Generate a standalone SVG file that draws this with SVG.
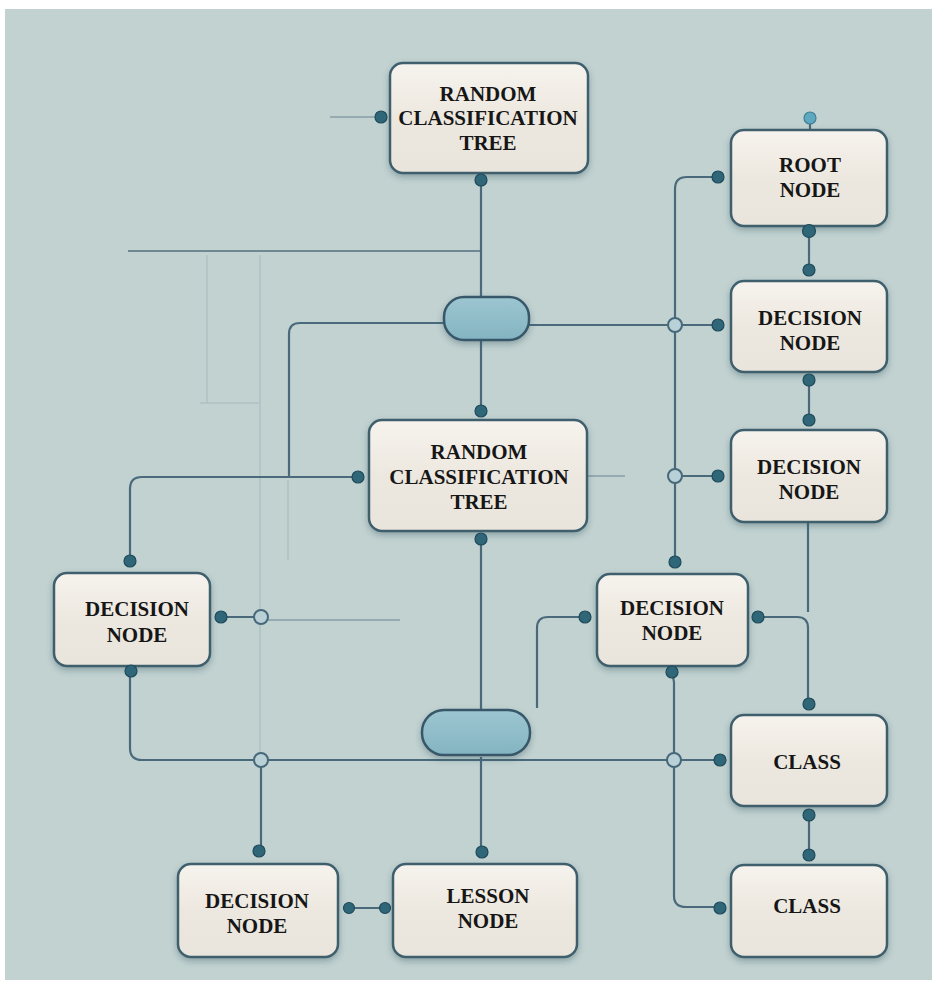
<svg xmlns="http://www.w3.org/2000/svg" width="939" height="988" viewBox="0 0 939 988">
<defs>
<linearGradient id="box" x1="0" y1="0" x2="0" y2="1">
<stop offset="0" stop-color="#f6f3ee"/>
<stop offset="0.5" stop-color="#ede8df"/>
<stop offset="1" stop-color="#eae5dc"/>
</linearGradient>
<linearGradient id="pill" x1="0" y1="0" x2="0" y2="1">
<stop offset="0" stop-color="#9cc6d0"/>
<stop offset="1" stop-color="#84b4c2"/>
</linearGradient>
<filter id="sh" x="-20%" y="-20%" width="140%" height="150%">
<feDropShadow dx="0" dy="3" stdDeviation="3" flood-color="#2d4a55" flood-opacity="0.35"/>
</filter>
</defs>
<style>
.bg{fill:#c2d2d1}
.node rect.b{fill:url(#box);stroke:#3f5f6d;stroke-width:2.5;filter:url(#sh)}
.pill rect{fill:url(#pill);stroke:#37596a;stroke-width:2.5;filter:url(#sh)}
.t{font-family:"Liberation Serif","Times New Roman",serif;font-weight:bold;font-size:21px;fill:#161616;text-anchor:middle}
.ln{fill:none;stroke:#4a6a7b;stroke-width:2.2}
.fl{fill:none;stroke:#5f7d8a;stroke-width:2;opacity:0.45}
.vf{fill:none;stroke:#8aa3ac;stroke-width:1.5;opacity:0.35}
.d{fill:#2f6678;stroke:#1f4a5a;stroke-width:1.2}
.dl{fill:#5fa9c0;stroke:#3d7f96;stroke-width:1.2}
.j{fill:#b9d0d6;stroke:#46687a;stroke-width:2}
</style>
<rect x="0" y="0" width="939" height="988" fill="#ffffff"/>
<rect class="bg" x="5" y="9" width="927" height="971"/>
<g id="connectors">
<path class="fl" d="M330,117 H381"/>
<path class="ln" d="M128,251 H481" opacity="0.7"/>
<path class="vf" d="M207,255 V403 M200,403 H260 M260,255 V760 M288,480 V560"/>
<path class="ln" d="M481,180 V298"/>
<path class="ln" d="M446,323 H300 Q289,323 289,334 V477"/>
<path class="ln" d="M481,340 V411"/>
<path class="ln" d="M358,477 H142 Q130,477 130,489 V562"/>
<path class="fl" d="M588,476 H625"/>
<path class="ln" d="M529,325 H718"/>
<path class="ln" d="M718,177 H687 Q675,177 675,189 V562"/>
<path class="ln" d="M675,476 H718"/>
<path class="ln" d="M810,118 V130"/>
<path class="ln" d="M809,230 V270"/>
<path class="ln" d="M809,380 V420"/>
<path class="ln" d="M808,522 V612"/>
<path class="ln" d="M758,617 H797 Q808,617 808,628 V705"/>
<path class="ln" d="M585,617 H548 Q537,617 537,628 V708"/>
<path class="ln" d="M481,540 V710"/>
<path class="ln" d="M481,757 V852"/>
<path class="ln" d="M221,617 H261"/>
<path class="fl" d="M268,620 H400"/>
<path class="ln" d="M130,672 V748 Q130,760 142,760 H420"/>
<path class="ln" d="M420,760 H720"/>
<path class="ln" d="M672,672 L674,682 V896 Q674,907 686,907 H718"/>
<path class="ln" d="M261,760 V852"/>
<path class="ln" d="M349,908 H385"/>
<path class="ln" d="M809,815 V855"/>
</g>
<g id="junctions">
<circle class="j" cx="675" cy="325" r="7"/>
<circle class="j" cx="675" cy="476" r="7"/>
<circle class="j" cx="261" cy="617" r="7"/>
<circle class="j" cx="261" cy="760" r="7"/>
<circle class="j" cx="674" cy="760" r="7"/>
</g>
<g id="node-rct-top" class="node">
<rect class="b" x="390" y="63" width="198" height="110" rx="13"/>
<text class="t" x="488" y="101">RANDOM</text>
<text class="t" x="488" y="125">CLASSIFICATION</text>
<text class="t" x="488" y="150">TREE</text>
</g>
<g id="pill-1" class="pill">
<rect x="444" y="297" width="85" height="43" rx="20"/>
</g>
<g id="node-rct-mid" class="node">
<rect class="b" x="369" y="420" width="218" height="111" rx="13"/>
<text class="t" x="479" y="459">RANDOM</text>
<text class="t" x="479" y="484">CLASSIFICATION</text>
<text class="t" x="479" y="509">TREE</text>
</g>
<g id="node-root" class="node">
<rect class="b" x="731" y="130" width="156" height="96" rx="13"/>
<text class="t" x="810" y="172">ROOT</text>
<text class="t" x="810" y="197">NODE</text>
</g>
<g id="node-decision-r1" class="node">
<rect class="b" x="731" y="281" width="156" height="91" rx="13"/>
<text class="t" x="810" y="325">DECISION</text>
<text class="t" x="810" y="350">NODE</text>
</g>
<g id="node-decision-r2" class="node">
<rect class="b" x="731" y="430" width="156" height="92" rx="13"/>
<text class="t" x="809" y="474">DECISION</text>
<text class="t" x="809" y="499">NODE</text>
</g>
<g id="node-decision-mid" class="node">
<rect class="b" x="597" y="574" width="151" height="92" rx="13"/>
<text class="t" x="672" y="615">DECISION</text>
<text class="t" x="672" y="640">NODE</text>
</g>
<g id="node-decision-left" class="node">
<rect class="b" x="54" y="573" width="156" height="93" rx="13"/>
<text class="t" x="137" y="616">DECISION</text>
<text class="t" x="137" y="642">NODE</text>
</g>
<g id="pill-2" class="pill">
<rect x="422" y="710" width="108" height="45" rx="22"/>
</g>
<g id="node-class-1" class="node">
<rect class="b" x="731" y="715" width="156" height="91" rx="13"/>
<text class="t" x="807" y="769">CLASS</text>
</g>
<g id="node-class-2" class="node">
<rect class="b" x="731" y="865" width="156" height="92" rx="13"/>
<text class="t" x="807" y="913">CLASS</text>
</g>
<g id="node-decision-bottom" class="node">
<rect class="b" x="178" y="864" width="160" height="93" rx="13"/>
<text class="t" x="257" y="908">DECISION</text>
<text class="t" x="257" y="933">NODE</text>
</g>
<g id="node-lesson" class="node">
<rect class="b" x="393" y="864" width="184" height="93" rx="13"/>
<text class="t" x="488" y="903">LESSON</text>
<text class="t" x="488" y="928">NODE</text>
</g>
<g id="ports">
<circle class="d" cx="381" cy="117" r="6"/>
<circle class="d" cx="481" cy="180" r="6"/>
<circle class="d" cx="481" cy="411" r="6"/>
<circle class="d" cx="358" cy="477" r="6"/>
<circle class="d" cx="481" cy="539" r="6"/>
<circle class="dl" cx="810" cy="118" r="6"/>
<circle class="d" cx="718" cy="177" r="6"/>
<circle class="d" cx="809" cy="231" r="6.5"/>
<circle class="d" cx="809" cy="270" r="6"/>
<circle class="d" cx="718" cy="325" r="6"/>
<circle class="d" cx="809" cy="380" r="6"/>
<circle class="d" cx="809" cy="420" r="6"/>
<circle class="d" cx="718" cy="476" r="6"/>
<circle class="d" cx="675" cy="562" r="6"/>
<circle class="d" cx="585" cy="617" r="6"/>
<circle class="d" cx="758" cy="617" r="6"/>
<circle class="d" cx="672" cy="672" r="6"/>
<circle class="d" cx="130" cy="561" r="6"/>
<circle class="d" cx="221" cy="617" r="6"/>
<circle class="d" cx="131" cy="671" r="6"/>
<circle class="d" cx="809" cy="704" r="6"/>
<circle class="d" cx="720" cy="760" r="6"/>
<circle class="d" cx="809" cy="815" r="6"/>
<circle class="d" cx="809" cy="855" r="6"/>
<circle class="d" cx="720" cy="908" r="6"/>
<circle class="d" cx="259" cy="851" r="6"/>
<circle class="d" cx="482" cy="852" r="6"/>
<circle class="d" cx="349" cy="908" r="5.5"/>
<circle class="d" cx="385" cy="908" r="5.5"/>
</g>
</svg>
